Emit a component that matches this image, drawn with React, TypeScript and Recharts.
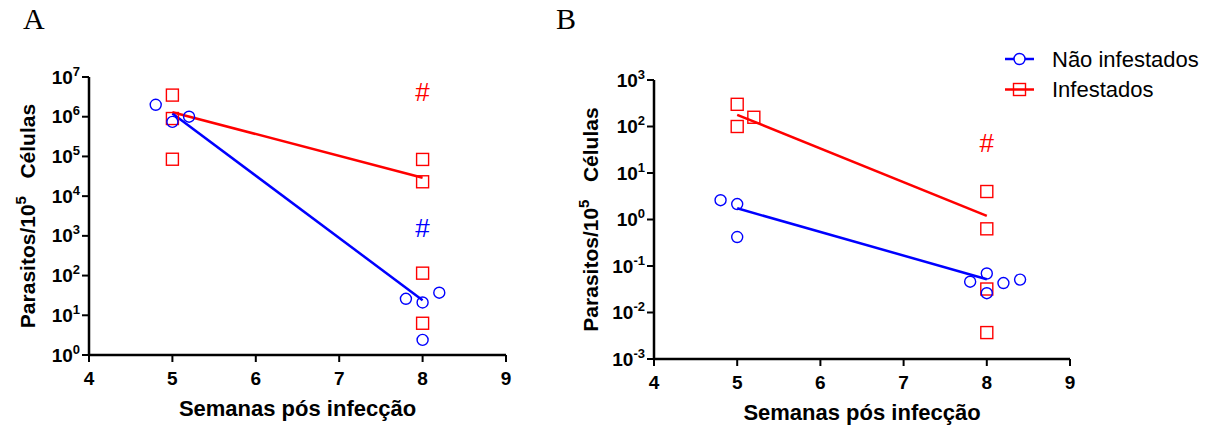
import React from "react";
import { ScatterChart, Scatter, XAxis, YAxis } from "recharts";

const semanas = [4, 5, 6, 7, 8, 9];
const potenciasA = [1, 10, 100, 1e3, 1e4, 1e5, 1e6, 1e7];
const potenciasB = [1e-3, 1e-2, 1e-1, 1, 10, 100, 1e3];
const semanasAjuste = [5, 8];
const legendaNomes = ["Não infestados", "Infestados"];

// painel A
const naoInfA_x = [4.8, 5, 5.2, 7.8, 8, 8.2, 8];
const naoInfA_y = [2.0e6, 7.4e5, 1.0e6, 26, 21, 37, 2.4];
const infA_x = [5, 5, 5, 8, 8, 8, 8];
const infA_y = [3.5e6, 9e5, 8.5e4, 8.4e4, 2.3e4, 115, 6.3];
const ajusteNaoA = [1.2e6, 24];
const ajusteInfA = [1.3e6, 2.9e4];
const marcaInfA = [4.1e6];
const marcaNaoA = [1.55e3];

// painel B
const naoInfB_x = [4.8, 5, 5, 7.8, 8, 8, 8.2, 8.4];
const naoInfB_y = [2.6, 2.15, 0.42, 0.046, 0.069, 0.026, 0.043, 0.051];
const infB_x = [5, 5, 5.2, 8, 8, 8, 8];
const infB_y = [300, 100, 158, 4.0, 0.63, 0.032, 0.0037];
const ajusteNaoB = [1.74, 0.052];
const ajusteInfB = [178, 1.2];
const marcaInfB = [45];

const AZUL = "#0000ff";
const VERMELHO = "#ff0000";
const FONTE = "Arial, 'Liberation Sans', Helvetica, sans-serif";

const zip = (xs: number[], ys: number[]) => xs.map((x, i) => ({ x, y: ys[i] }));

const Circulo = (p: any) => (
  <circle cx={p.cx} cy={p.cy} r={5.5} fill="none" stroke={AZUL} strokeWidth={1.4} />
);
const Quadrado = (p: any) => (
  <rect x={p.cx - 6} y={p.cy - 6} width={12} height={12} fill="none" stroke={VERMELHO} strokeWidth={1.4} />
);
const semMarca = () => <g />;
const cerquilha = (cor: string) => (p: any) => (
  <text x={p.cx} y={p.cy} dy="0.35em" textAnchor="middle" fontFamily={FONTE} fontSize={26} fill={cor}>
    #
  </text>
);

const TickY = ({ x, y, payload }: any) => {
  const exp = Math.round(Math.log10(payload.value));
  return (
    <text x={x} y={y} dy={6.5} textAnchor="end" fontFamily={FONTE} fontWeight="bold" fontSize={19} fill="#000">
      10<tspan dy={-8} fontSize={13}>{exp}</tspan>
    </text>
  );
};

const TickX = ({ x, y, payload }: any) => (
  <text x={x} y={y} dy={21} textAnchor="middle" fontFamily={FONTE} fontWeight="bold" fontSize={19} fill="#000">
    {payload.value}
  </text>
);

const TituloX = ({ viewBox }: any) => (
  <text
    x={viewBox.x + viewBox.width / 2}
    y={viewBox.y + 61}
    textAnchor="middle"
    fontFamily={FONTE}
    fontWeight="bold"
    fontSize={22}
    fill="#000"
  >
    Semanas pós infecção
  </text>
);

const TituloY = ({ viewBox, cx }: any) => {
  const y = viewBox.y + viewBox.height / 2;
  return (
    <text
      x={cx}
      y={y}
      dy="0.35em"
      transform={`rotate(-90 ${cx} ${y})`}
      textAnchor="middle"
      fontFamily={FONTE}
      fontWeight="bold"
      fontSize={21}
      fill="#000"
    >
      Parasitos/10<tspan dy={-9} fontSize={15}>5</tspan>
      <tspan dy={9}>{"\u00a0\u00a0\u00a0Células"}</tspan>
    </text>
  );
};

interface PainelProps {
  left: number;
  width: number;
  margin: { top: number; right: number; bottom: number; left: number };
  yWidth: number;
  ticksY: number[];
  circulos: { x: number; y: number }[];
  quadrados: { x: number; y: number }[];
  linhaNao: { x: number; y: number }[];
  linhaInf: { x: number; y: number }[];
  marcasInf: { x: number; y: number }[];
  marcasNao: { x: number; y: number }[];
  tituloX: number;
}

function Painel(p: PainelProps) {
  return (
    <div style={{ position: "absolute", left: p.left, top: 0 }}>
      <ScatterChart width={p.width} height={427} margin={p.margin}>
        <XAxis
          type="number"
          dataKey="x"
          domain={[4, 9]}
          ticks={semanas}
          interval={0}
          height={30}
          tickSize={7}
          axisLine={{ stroke: "#000", strokeWidth: 2.5 }}
          tickLine={{ stroke: "#000", strokeWidth: 2 }}
          tick={<TickX />}
          label={<TituloX />}
        />
        <YAxis
          type="number"
          dataKey="y"
          scale="log"
          domain={[p.ticksY[0], p.ticksY[p.ticksY.length - 1]]}
          allowDataOverflow
          ticks={p.ticksY}
          interval={0}
          width={p.yWidth}
          tickSize={7}
          axisLine={{ stroke: "#000", strokeWidth: 2.5 }}
          tickLine={{ stroke: "#000", strokeWidth: 2 }}
          tick={<TickY />}
          label={<TituloY cx={p.tituloX} />}
        />
        <Scatter data={p.linhaInf} line={{ stroke: VERMELHO, strokeWidth: 2.5 }} shape={semMarca} isAnimationActive={false} />
        <Scatter data={p.linhaNao} line={{ stroke: AZUL, strokeWidth: 2.5 }} shape={semMarca} isAnimationActive={false} />
        <Scatter data={p.quadrados} shape={Quadrado} isAnimationActive={false} />
        <Scatter data={p.circulos} shape={Circulo} isAnimationActive={false} />
        <Scatter data={p.marcasInf} shape={cerquilha(VERMELHO)} isAnimationActive={false} />
        {p.marcasNao.length > 0 && (
          <Scatter data={p.marcasNao} shape={cerquilha(AZUL)} isAnimationActive={false} />
        )}
      </ScatterChart>
    </div>
  );
}

export default function App() {
  return (
    <div style={{ position: "absolute", left: 0, top: 0, width: 1211, height: 427, background: "#fff" }}>
      <Painel
        left={0}
        width={560}
        margin={{ top: 77, right: 54, bottom: 42, left: 0 }}
        yWidth={89}
        ticksY={potenciasA}
        circulos={zip(naoInfA_x, naoInfA_y)}
        quadrados={zip(infA_x, infA_y)}
        linhaNao={zip(semanasAjuste, ajusteNaoA)}
        linhaInf={zip(semanasAjuste, ajusteInfA)}
        marcasInf={zip([8], marcaInfA)}
        marcasNao={zip([8], marcaNaoA)}
        tituloX={28}
      />
      <Painel
        left={560}
        width={560}
        margin={{ top: 80, right: 50, bottom: 38, left: 0 }}
        yWidth={94}
        ticksY={potenciasB}
        circulos={zip(naoInfB_x, naoInfB_y)}
        quadrados={zip(infB_x, infB_y)}
        linhaNao={zip(semanasAjuste, ajusteNaoB)}
        linhaInf={zip(semanasAjuste, ajusteInfB)}
        marcasInf={zip([8], marcaInfB)}
        marcasNao={[]}
        tituloX={31}
      />
      <svg width={1211} height={427} style={{ position: "absolute", left: 0, top: 0, pointerEvents: "none" }}>
        <text x={23} y={29} fontFamily="'Times New Roman', 'Liberation Serif', serif" fontSize={30} fill="#000">A</text>
        <text x={556} y={29} fontFamily="'Times New Roman', 'Liberation Serif', serif" fontSize={30} fill="#000">B</text>
        {legendaNomes.map((nome, i) => {
          const y = 59 + i * 30.5;
          const cor = i === 0 ? AZUL : VERMELHO;
          return (
            <g key={nome}>
              <line x1={1005} x2={1034} y1={y} y2={y} stroke={cor} strokeWidth={2.5} />
              {i === 0 ? (
                <circle cx={1019.5} cy={y} r={5.5} fill="#fff" stroke={cor} strokeWidth={1.4} />
              ) : (
                <rect x={1013.5} y={y - 6} width={12} height={12} fill="none" stroke={cor} strokeWidth={1.4} />
              )}
              <text x={1052} y={y} dy="0.35em" fontFamily={FONTE} fontSize={22} fill="#000">{nome}</text>
            </g>
          );
        })}
      </svg>
    </div>
  );
}
